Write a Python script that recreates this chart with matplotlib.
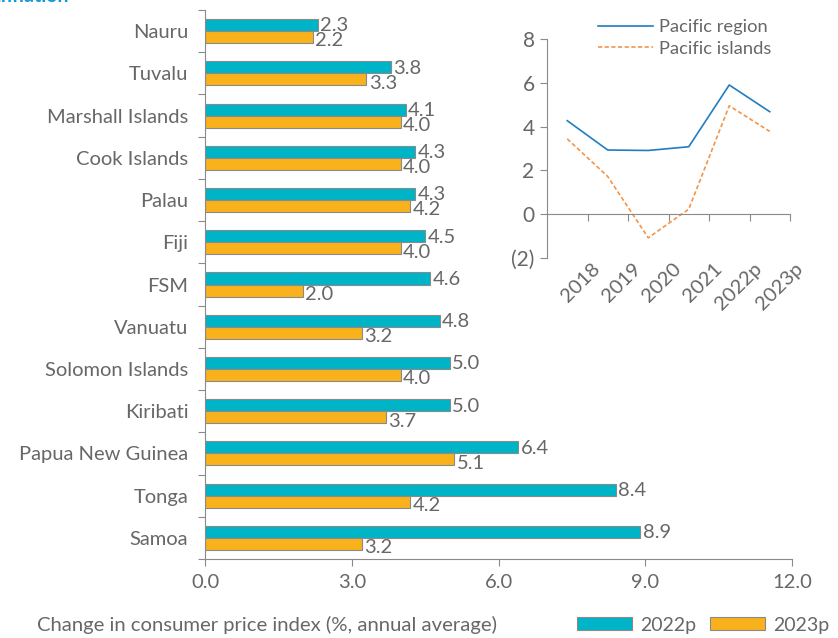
import matplotlib
matplotlib.use("Agg")
import matplotlib.pyplot as plt
import matplotlib.transforms as mtransforms
import numpy as np
from matplotlib.patches import Patch

# ---- data ----
countries = ["Nauru", "Tuvalu", "Marshall Islands", "Cook Islands", "Palau", "Fiji",
             "FSM", "Vanuatu", "Solomon Islands", "Kiribati", "Papua New Guinea",
             "Tonga", "Samoa"]
cpi_2022p = [2.3, 3.8, 4.1, 4.3, 4.3, 4.5, 4.6, 4.8, 5.0, 5.0, 6.4, 8.4, 8.9]
cpi_2023p = [2.2, 3.3, 4.0, 4.0, 4.2, 4.0, 2.0, 3.2, 4.0, 3.7, 5.1, 4.2, 3.2]
x_ticks = [0.0, 3.0, 6.0, 9.0, 12.0]
x_ticklabels = ["0.0", "3.0", "6.0", "9.0", "12.0"]

years = ["2018", "2019", "2020", "2021", "2022p", "2023p"]
pacific_region = [4.27, 2.93, 2.91, 3.08, 5.90, 4.68]
pacific_islands = [3.44, 1.72, -1.08, 0.23, 4.95, 3.78]
inset_yticks = [-2, 0, 2, 4, 6, 8]
inset_yticklabels = ["(2)", "0", "2", "4", "6", "8"]

TEAL = "#00B4C8"
ORANGE = "#F9B21B"
BLUE = "#1F7DC1"
DORANGE = "#F39448"
GRAY = "#676767"
SPINE = "#8a8a8a"
FONT = ["Lato", "DejaVu Sans"]

plt.rcParams["font.family"] = FONT

fig = plt.figure(figsize=(8.38, 6.38), dpi=100)
W, H = 838, 638

# ---- main bar chart ----
ax = fig.add_axes([205 / W, 1 - 559 / H, (792 - 205) / W, (559 - 10) / H])
n = len(countries)
pos = np.arange(n)
bh = 0.285
ax.barh(pos - bh / 2, cpi_2022p, height=bh, color=TEAL, edgecolor=SPINE, linewidth=0.8)
ax.barh(pos + bh / 2, cpi_2023p, height=bh, color=ORANGE, edgecolor=SPINE, linewidth=0.8)
for i in range(n):
    ax.text(cpi_2022p[i] + 0.05, pos[i] - bh / 2 + 0.02, f"{cpi_2022p[i]:.1f}",
            va="center", ha="left", fontsize=14.5, color=GRAY)
    ax.text(cpi_2023p[i] + 0.05, pos[i] + bh / 2 + 0.09, f"{cpi_2023p[i]:.1f}",
            va="center", ha="left", fontsize=14.5, color=GRAY)

ax.set_ylim(n - 0.5, -0.5)
ax.set_xlim(0, 12)
ax.set_yticks(pos)
ax.set_yticklabels(countries)
ax.set_yticks(np.arange(-0.5, n, 1.0), minor=True)
ax.tick_params(axis="y", which="major", length=0, pad=12, labelsize=14.5, labelcolor=GRAY)
ax.tick_params(axis="y", which="minor", length=5, color=SPINE, width=0.8)
ax.set_xticks(x_ticks)
ax.set_xticklabels(x_ticklabels)
ax.tick_params(axis="x", which="major", length=5, color=SPINE, width=0.8, pad=6,
               labelsize=14.5, labelcolor=GRAY)
for s in ["top", "right"]:
    ax.spines[s].set_visible(False)
for s in ["left", "bottom"]:
    ax.spines[s].set_color(SPINE)
    ax.spines[s].set_linewidth(0.8)

# ---- inset line chart ----
ax2 = fig.add_axes([547 / W, 1 - 258 / H, (790 - 547) / W, (258 - 39) / H])
xi = np.arange(len(years))
ax2.plot(xi, pacific_region, color=BLUE, lw=1.2, label="Pacific region")
ax2.plot(xi, pacific_islands, color=DORANGE, lw=1.2, ls=(0, (2.5, 1.5)), label="Pacific islands")
ax2.set_xlim(-0.5, len(years) - 0.5)
ax2.set_ylim(-2, 8)
ax2.set_yticks(inset_yticks)
ax2.set_yticklabels(inset_yticklabels)
ax2.tick_params(axis="y", length=5, color=SPINE, width=0.8, pad=4, labelsize=15, labelcolor=GRAY)
ax2.spines["bottom"].set_position(("data", 0))
ax2.set_xticks(xi)
ax2.set_xticks(np.arange(0.5, len(years), 1.0), minor=True)
ax2.tick_params(axis="x", which="major", length=0, pad=33, labelsize=14.5, labelcolor=GRAY)
ax2.tick_params(axis="x", which="minor", length=5, color=SPINE, width=0.8)
ax2.set_xticklabels(years, rotation=45, ha="right", va="top", rotation_mode="anchor")
shift = mtransforms.ScaledTranslation(24 / 100, 0, fig.dpi_scale_trans)
for lab in ax2.get_xticklabels():
    lab.set_transform(lab.get_transform() + shift)
for s in ["top", "right"]:
    ax2.spines[s].set_visible(False)
for s in ["left", "bottom"]:
    ax2.spines[s].set_color(SPINE)
    ax2.spines[s].set_linewidth(0.8)
ax2.patch.set_alpha(0)
ax2.legend(loc="upper left", bbox_to_anchor=(598 / W, 1 - 19 / H), bbox_transform=fig.transFigure,
           frameon=False, fontsize=13.2, handlelength=3.0, handletextpad=0.35,
           labelspacing=0.3, borderpad=0, borderaxespad=0, labelcolor=GRAY)

# ---- bottom caption and legend ----
fig.text(37 / W, 1 - 625 / H, "Change in consumer price index (%, annual average)",
         ha="left", va="center", fontsize=14.6, color=GRAY)
handles = [Patch(facecolor=TEAL, edgecolor=SPINE, linewidth=0.8),
           Patch(facecolor=ORANGE, edgecolor=SPINE, linewidth=0.8)]
fig.legend(handles, ["2022p", "2023p"], loc="center left",
           bbox_to_anchor=(577 / W, 1 - 625 / H), ncol=2, frameon=False, fontsize=14,
           handlelength=2.83, handleheight=0.62, handletextpad=0.41, columnspacing=0.72,
           borderpad=0, borderaxespad=0, labelcolor=GRAY)

# ---- clipped title at very top ----
fig.text(-5 / W, 1 + 3 / H, "Inflation", ha="left", va="center", fontsize=14,
         fontweight="bold", color="#1596D6")

fig.savefig("out.png", dpi=100)
